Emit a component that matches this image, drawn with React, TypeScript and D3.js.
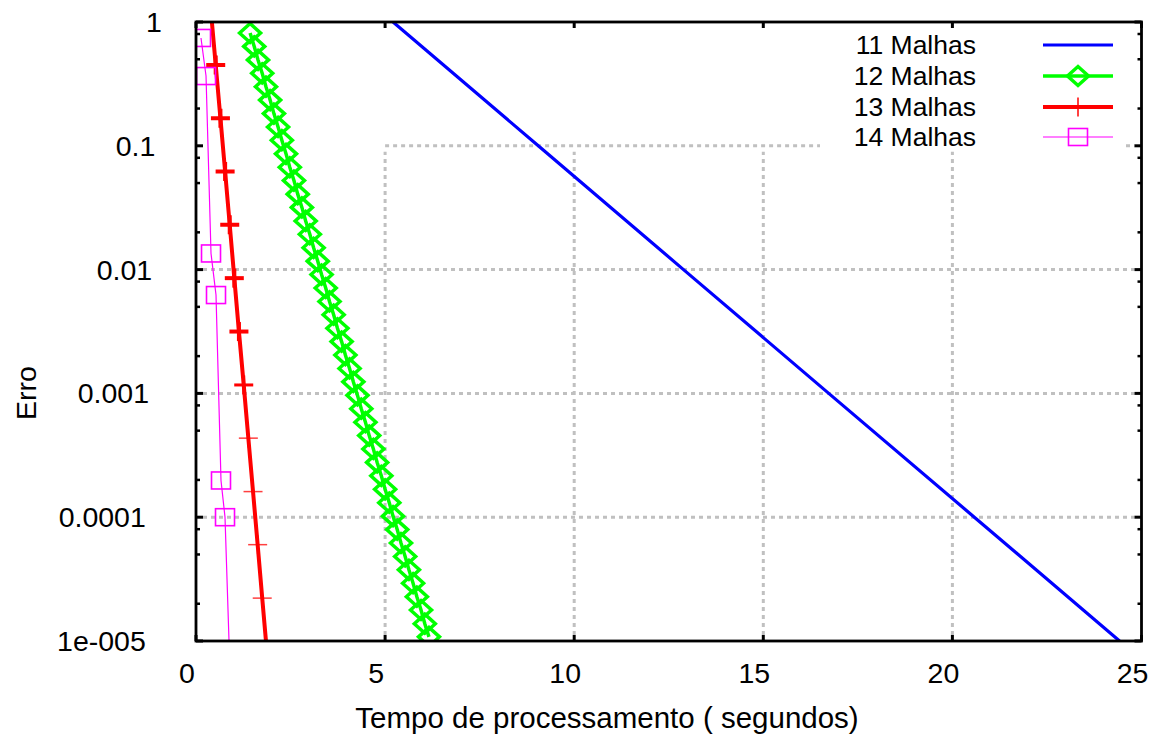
import React from 'react';
import * as d3 from 'd3';

const xTickValues = [0, 5, 10, 15, 20, 25];
const xTickLabels = ['0', '5', '10', '15', '20', '25'];
const yTickValues = [1, 0.1, 0.01, 0.001, 0.0001, 0.00001];
const yTickLabels = ['1', '0.1', '0.01', '0.001', '0.0001', '1e-005'];
const yMinorFactors = [2, 5, 8];
const seriesNames = ['11 Malhas', '12 Malhas', '13 Malhas', '14 Malhas'];
const xAxisTitle = 'Tempo de processamento ( segundos)';
const yAxisTitle = 'Erro';

// 11 Malhas (line only)
const malhas11Time = [5.21, 9.05, 12.89, 16.73, 20.58, 24.42];
const malhas11Err = [1, 0.1, 0.01, 0.001, 0.0001, 0.00001];

// 12 Malhas (diamonds on every point)
const malhas12Time = [
  1.43, 1.54, 1.64, 1.75, 1.85, 1.96, 2.06, 2.17, 2.27, 2.38,
  2.48, 2.59, 2.69, 2.80, 2.90, 3.01, 3.11, 3.22, 3.32, 3.43,
  3.53, 3.64, 3.74, 3.85, 3.95, 4.06, 4.16, 4.27, 4.37, 4.48,
  4.58, 4.69, 4.79, 4.90, 5.00, 5.11, 5.21, 5.32, 5.42, 5.53,
  5.63, 5.74, 5.84, 5.95, 6.05, 6.16,
];
const malhas12Err = [
  0.815, 0.635, 0.494, 0.385, 0.300, 0.234, 0.182, 0.142, 0.111, 0.0861,
  0.0671, 0.0524, 0.0407, 0.0318, 0.0247, 0.0193, 0.0150, 0.0117, 0.00912, 0.00710,
  0.00553, 0.00432, 0.00336, 0.00262, 0.00204, 0.00159, 0.00124, 0.000964, 0.000752, 0.000585,
  0.000456, 0.000356, 0.000277, 0.000216, 0.000168, 0.000131, 0.000102, 0.0000794, 0.0000619, 0.0000482,
  0.0000376, 0.0000293, 0.0000228, 0.0000178, 0.0000138, 0.0000108,
];

// 13 Malhas line ends and "+" marker points
const malhas13LineTime = [0.42, 1.85];
const malhas13LineErr = [1, 0.00001];
const malhas13Time = [0.521, 0.646, 0.770, 0.892, 1.013, 1.135, 1.262, 1.384, 1.508, 1.630, 1.751];
const malhas13Err = [0.450, 0.167, 0.0619, 0.0230, 0.00853, 0.00316, 0.00117, 0.000435, 0.000161, 0.0000600, 0.0000222];

// 14 Malhas square marker points and line end
const malhas14Time = [0.132, 0.265, 0.397, 0.529, 0.661, 0.767];
const malhas14Err = [0.743, 0.366, 0.0135, 0.00623, 0.000198, 0.0001];
const malhas14EndTime = [0.873];
const malhas14EndErr = [0.00001];

const W = 1152;
const H = 735;
const L = 196;
const R = 1141.5;
const T = 22;
const B = 641;
const FONT = 'Arial, "Liberation Sans", Helvetica, sans-serif';

const BLUE = '#0000ff';
const GREEN = '#00ff00';
const RED = '#ff0000';
const MAGENTA = '#ff00ff';
const GRID = '#c0c0c0';

export default function App() {
  const x = d3.scaleLinear().domain([0, 25]).range([L, R]);
  const y = d3.scaleLog().domain([0.00001, 1]).range([B, T]);
  const line = d3
    .line<[number, number]>()
    .x((d) => x(d[0]))
    .y((d) => y(d[1]));

  const zip = (a: number[], b: number[]) => a.map((v, i) => [v, b[i]] as [number, number]);

  const s11 = zip(malhas11Time, malhas11Err);
  const s12 = zip(malhas12Time, malhas12Err);
  const s13m = zip(malhas13Time, malhas13Err);
  const s13 = [
    [malhas13LineTime[0], malhas13LineErr[0]] as [number, number],
    ...s13m,
    [malhas13LineTime[1], malhas13LineErr[1]] as [number, number],
  ];
  const s14m = zip(malhas14Time, malhas14Err);
  const s14 = [...s14m, [malhas14EndTime[0], malhas14EndErr[0]] as [number, number]];

  const minorTicks: number[] = [];
  for (let i = 1; i < yTickValues.length; i++) {
    yMinorFactors.forEach((f) => minorTicks.push(yTickValues[i] * f));
  }

  const diamond = (cx: number, cy: number, key: string | number) => (
    <path
      key={key}
      d={`M${cx - 10.5},${cy} L${cx},${cy - 9.5} L${cx + 10.5},${cy} L${cx},${cy + 9.5} Z`}
      fill="none"
      stroke={GREEN}
      strokeWidth={3.5}
    />
  );

  const plus = (cx: number, cy: number, key: string | number, bold: number) => (
    <g key={key} stroke={RED} strokeWidth={bold} opacity={bold < 2 ? 0.75 : 1}>
      <line x1={cx - 9.5} x2={cx + 9.5} y1={cy} y2={cy} />
      <line x1={cx} x2={cx} y1={cy - 9.5} y2={cy + 9.5} />
    </g>
  );

  const square = (cx: number, cy: number, key: string | number) => (
    <rect key={key} x={cx - 9.5} y={cy - 8.5} width={19} height={17} fill="none" stroke={MAGENTA} strokeWidth={1.6} />
  );

  const legendY = [45, 76, 107, 137];
  const legX1 = 1043;
  const legX2 = 1113;
  const legC = (legX1 + legX2) / 2;

  return (
    <svg
      width={W}
      height={H}
      style={{ position: 'absolute', left: 0, top: 0, background: '#fff' }}
      fontFamily={FONT}
    >
      <defs>
        <clipPath id="plotClip">
          <rect x={L} y={T} width={R - L} height={B - T} />
        </clipPath>
      </defs>
      <rect x={0} y={0} width={W} height={H} fill="#fff" />

      {/* grid */}
      <g stroke={GRID} strokeWidth={3} strokeDasharray="4,4" fill="none">
        {yTickValues.slice(2, 5).map((v, i) => (
          <line key={'hg' + i} x1={L + 7} x2={R - 7} y1={y(v)} y2={y(v)} />
        ))}
        <line x1={x(5)} x2={820} y1={y(0.1)} y2={y(0.1)} />
        <line x1={1126} x2={R - 7} y1={y(0.1)} y2={y(0.1)} />
        {xTickValues.slice(1, 5).map((v, i) => (
          <line key={'vg' + i} x1={x(v)} x2={x(v)} y1={B - 6} y2={y(0.1) + 6} />
        ))}
      </g>

      {/* series */}
      <g clipPath="url(#plotClip)">
        <path d={line(s11) || ''} fill="none" stroke={BLUE} strokeWidth={3.2} />
        <path d={line(s12) || ''} fill="none" stroke={GREEN} strokeWidth={3.5} />
        {s12.map((d, i) => diamond(x(d[0]), y(d[1]), 'd' + i))}
        <path d={line(s13) || ''} fill="none" stroke={RED} strokeWidth={4} />
        {s13m.map((d, i) => plus(x(d[0]), y(d[1]), 'p' + i, i < 6 ? 4 : i < 7 ? 3 : 1.5))}
        <path d={line(s14) || ''} fill="none" stroke={MAGENTA} strokeWidth={1.2} />
        {s14m.map((d, i) => square(x(d[0]), y(d[1]), 's' + i))}
      </g>

      {/* ticks */}
      <g stroke="#000">
        {yTickValues.map((v, i) => (
          <g key={'yt' + i} strokeWidth={3}>
            <line x1={L} x2={L + 7} y1={y(v)} y2={y(v)} />
            <line x1={R} x2={R - 7} y1={y(v)} y2={y(v)} />
          </g>
        ))}
        {minorTicks.map((v, i) => (
          <g key={'ym' + i} strokeWidth={2.5}>
            <line x1={L} x2={L + 4} y1={y(v)} y2={y(v)} />
            <line x1={R} x2={R - 4} y1={y(v)} y2={y(v)} />
          </g>
        ))}
        {xTickValues.map((v, i) => (
          <g key={'xt' + i} strokeWidth={3}>
            <line x1={x(v)} x2={x(v)} y1={B} y2={B - 6} />
            <line x1={x(v)} x2={x(v)} y1={T} y2={T + 6} />
          </g>
        ))}
      </g>

      {/* frame */}
      <rect x={L} y={T} width={R - L} height={B - T} fill="none" stroke="#000" strokeWidth={2.8} />

      {/* tick labels */}
      <g fontSize={28.5} fill="#000">
        {xTickValues.map((v, i) => (
          <text key={'xl' + i} x={x(v) - 9} y={683} textAnchor="middle">
            {xTickLabels[i]}
          </text>
        ))}
        {yTickValues.map((v, i) => (
          <text key={'yl' + i} x={165 - 3.2 * yTickLabels[i].length} y={y(v) + 10} textAnchor="end">
            {yTickLabels[i]}
          </text>
        ))}
      </g>

      {/* axis titles */}
      <text x={607} y={728} textAnchor="middle" fontSize={29.5}>
        {xAxisTitle}
      </text>
      <text x={36} y={393} textAnchor="middle" fontSize={28.5} transform="rotate(-90 36 393)">
        {yAxisTitle}
      </text>

      {/* legend */}
      <g fontSize={26.5}>
        {seriesNames.map((n, i) => (
          <text key={'lt' + i} x={976} y={legendY[i] + 8.5} textAnchor="end">
            {n}
          </text>
        ))}
        <line x1={legX1} x2={legX2} y1={legendY[0]} y2={legendY[0]} stroke={BLUE} strokeWidth={3.2} />
        <line x1={legX1} x2={legX2} y1={legendY[1]} y2={legendY[1]} stroke={GREEN} strokeWidth={3.5} />
        {diamond(legC, legendY[1], 'ld')}
        <line x1={legX1} x2={legX2} y1={legendY[2]} y2={legendY[2]} stroke={RED} strokeWidth={4} />
        <line x1={legC} x2={legC} y1={legendY[2] - 9.5} y2={legendY[2] + 9.5} stroke={RED} strokeWidth={1.5} />
        <line x1={legX1} x2={legX2} y1={legendY[3]} y2={legendY[3]} stroke={MAGENTA} strokeWidth={1.2} />
        {square(legC, legendY[3], 'ls')}
      </g>
    </svg>
  );
}
